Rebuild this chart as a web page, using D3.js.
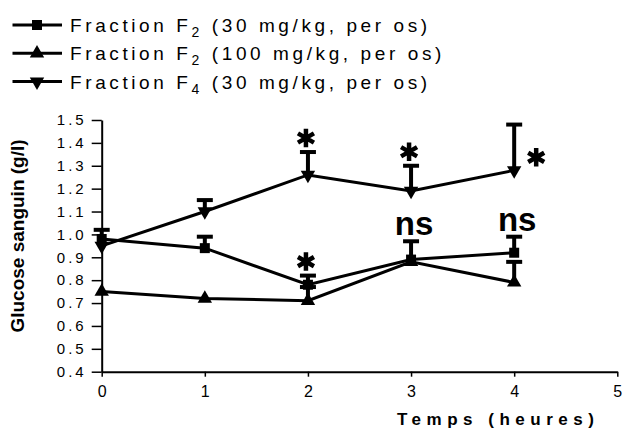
<!DOCTYPE html>
<html lang="fr">
<head>
    <meta charset="UTF-8">
    <title>Glucose sanguin</title>
    <script src="https://d3js.org/d3.v7.min.js"></script>
    <style>
        body { margin: 0; background: #fff; }
        text { font-family: "Liberation Sans", Arial, sans-serif; fill: #000; }
    </style>
</head>
<body>
<script>
    const width = 623;
    const height = 431;

    // data
    const times = [0, 1, 2, 3, 4];
    const f2Low = [0.98, 0.94, 0.78, 0.89, 0.92];      // F2 30 mg/kg
    const f2LowErr = [0.04, 0.05, 0.04, 0.08, 0.07];
    const f2LowSig = ["", "", "*", "ns", "ns"];
    const f2High = [0.75, 0.72, 0.71, 0.88, 0.79];     // F2 100 mg/kg
    const f2HighErr = [0, 0, 0.06, 0, 0.09];
    const f4Low = [0.95, 1.10, 1.26, 1.19, 1.28];      // F4 30 mg/kg
    const f4LowErr = [0, 0.05, 0.10, 0.11, 0.20];
    const f4LowSig = ["", "", "*", "*", "*"];
    const yTicks = [0.4, 0.5, 0.6, 0.7, 0.8, 0.9, 1.0, 1.1, 1.2, 1.3, 1.4, 1.5];
    const xTicks = [0, 1, 2, 3, 4, 5];
    const legendLabels = [
        ["Fraction F", "2", " (30 mg/kg, per os)"],
        ["Fraction F", "2", " (100 mg/kg, per os)"],
        ["Fraction F", "4", " (30 mg/kg, per os)"]
    ];

    const series = [
        {values: f2Low,  err: f2LowErr,  sig: f2LowSig, symbol: d3.symbolSquare,   size: 100, rot: 0},
        {values: f2High, err: f2HighErr, sig: null,     symbol: d3.symbolTriangle, size: 90,  rot: 0},
        {values: f4Low,  err: f4LowErr,  sig: f4LowSig, symbol: d3.symbolTriangle, size: 90,  rot: 180}
    ];

    const svg = d3.select("body").append("svg")
            .attr("width", width).attr("height", height);

    const x = d3.scaleLinear().domain([0, 5]).range([101.7, 617.3]);
    const y = d3.scaleLinear().domain([0.4, 1.5]).range([371.7, 120]);

    // axes
    const yAxis = svg.append("g")
            .attr("transform", "translate(" + x(0) + ",0)")
            .call(d3.axisLeft(y).tickValues(yTicks).tickFormat(d3.format(".1f"))
                    .tickSize(10).tickSizeOuter(0).tickPadding(5))
            .attr("font-size", 15);
    yAxis.select(".domain").attr("stroke-width", 2);
    yAxis.selectAll(".tick line").attr("stroke-width", 1.5);
    yAxis.selectAll("text").style("font-size", "15px").style("letter-spacing", "3px");

    const xAxis = svg.append("g")
            .attr("transform", "translate(0," + y(0.4) + ")")
            .call(d3.axisBottom(x).tickValues(xTicks).tickFormat(d3.format("d"))
                    .tickSize(5).tickSizeOuter(0).tickPadding(9))
            .attr("font-size", 16);
    xAxis.select(".domain").attr("stroke-width", 2);
    xAxis.selectAll(".tick line").attr("stroke-width", 1.5);
    xAxis.selectAll("text").style("font-size", "16px");

    svg.append("text")
            .attr("transform", "translate(17,236) rotate(-90)")
            .attr("text-anchor", "middle")
            .attr("dominant-baseline", "central")
            .style("font-size", "19px").style("font-weight", "bold")
            .text("Glucose sanguin (g/l)");

    svg.append("text")
            .attr("x", 397).attr("y", 425)
            .style("font-size", "17px").style("font-weight", "bold")
            .style("letter-spacing", "5.5px")
            .text("Temps (heures)");

    const line = d3.line()
            .x((d, i) => x(times[i]))
            .y(d => y(d));

    // lines
    series.forEach(s => {
        svg.append("path")
                .datum(s.values)
                .attr("d", line)
                .attr("fill", "none")
                .attr("stroke", "#000")
                .attr("stroke-width", 3);
    });

    // error bars (upper only)
    series.forEach(s => {
        const g = svg.append("g");
        s.values.forEach((v, i) => {
            if (!s.err[i]) return;
            const cx = x(times[i]);
            g.append("line")
                    .attr("x1", cx).attr("x2", cx)
                    .attr("y1", y(v)).attr("y2", y(v + s.err[i]))
                    .attr("stroke", "#000").attr("stroke-width", 4);
            g.append("line")
                    .attr("x1", cx - 8).attr("x2", cx + 8)
                    .attr("y1", y(v + s.err[i])).attr("y2", y(v + s.err[i]))
                    .attr("stroke", "#000").attr("stroke-width", 4);
        });
    });

    // markers
    series.forEach(s => {
        svg.append("g").selectAll("path")
                .data(s.values)
                .join("path")
                .attr("transform", (d, i) => "translate(" + x(times[i]) + "," + y(d) + ") rotate(" + s.rot + ")")
                .attr("d", d3.symbol(s.symbol, s.size))
                .attr("fill", "#000");
    });

    // significance marks
    const star = d3.symbol(d3.symbolAsterisk, 240);
    series.forEach(s => {
        if (!s.sig) return;
        s.sig.forEach((lab, i) => {
            if (!lab) return;
            const cx = x(times[i]);
            const top = y(s.values[i] + s.err[i]);
            const side = i === times.length - 1 && s.values === f4Low;
            if (lab === "*") {
                const px = side ? cx + 22 : cx - 2;
                const py = side ? y(s.values[i]) - 13 : top - 14;
                svg.append("path")
                        .attr("transform", "translate(" + px + "," + py + ")")
                        .attr("d", star)
                        .attr("fill", "none")
                        .attr("stroke", "#000")
                        .attr("stroke-width", 4.5);
            } else {
                svg.append("text")
                        .attr("x", cx + 3).attr("y", top - 6)
                        .attr("text-anchor", "middle")
                        .style("font-size", "33px").style("font-weight", "bold")
                        .text(lab);
            }
        });
    });

    // legend
    const legend = svg.append("g");
    legendLabels.forEach((lab, i) => {
        const ly = 25 + i * 28.3;
        const s = series[i];
        legend.append("line")
                .attr("x1", 12.5).attr("x2", 62).attr("y1", ly).attr("y2", ly)
                .attr("stroke", "#000").attr("stroke-width", 3);
        legend.append("path")
                .attr("transform", "translate(37," + ly + ") rotate(" + s.rot + ")")
                .attr("d", d3.symbol(s.symbol, s.size))
                .attr("fill", "#000");
        const t = legend.append("text")
                .attr("x", 70).attr("y", ly + 7)
                .style("font-size", "19px").style("letter-spacing", "3.6px");
        t.append("tspan").text(lab[0]);
        t.append("tspan").attr("dy", 5).style("font-size", "14px").text(lab[1]);
        t.append("tspan").attr("dy", -5).text(lab[2]);
    });
</script>
</body>
</html>
